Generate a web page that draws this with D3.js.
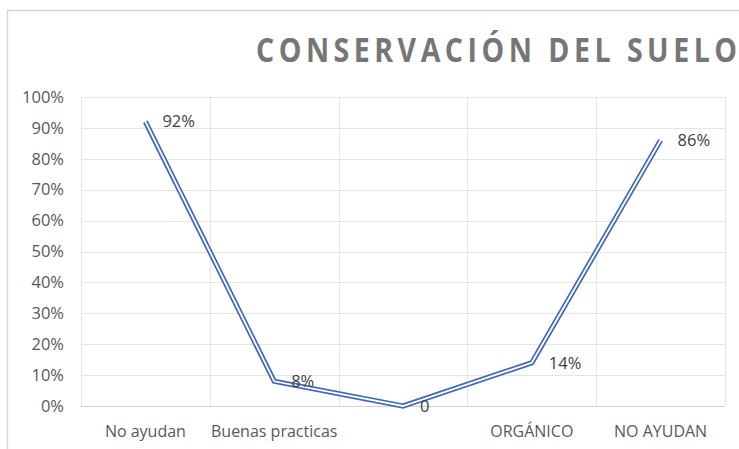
<!DOCTYPE html>
<html>
<head>
<meta charset="utf-8">
<script src="https://cdn.jsdelivr.net/npm/d3@7"></script>
<style>
  body { margin: 0; background: #fff; }
  text { font-family: "Open Sans", sans-serif; }
</style>
</head>
<body>
<svg id="chart" width="739" height="449"></svg>
<script>
const categories = ["No ayudan", "Buenas practicas", "", "ORGÁNICO", "NO AYUDAN"];
const values = [0.92, 0.08, 0, 0.14, 0.86];
const valueLabels = ["92%", "8%", "0", "14%", "86%"];
const yTicks = [0, 0.1, 0.2, 0.3, 0.4, 0.5, 0.6, 0.7, 0.8, 0.9, 1];

const svg = d3.select("#chart");
const margin = {left: 81, right: 14, top: 97, bottom: 43};
const W = 739, H = 449;

// chart frame (left + top edges visible, rest cropped)
svg.append("path")
  .attr("d", "M7.5,449 V10.5 H739")
  .attr("fill", "none")
  .attr("stroke", "#d9d9d9")
  .attr("stroke-width", 1.5);

// title: condensed glyphs, wide tracking
const titleScale = 0.84;
svg.append("text")
  .attr("transform", `translate(256,62) scale(${titleScale},1)`)
  .attr("fill", "#767676")
  .attr("font-size", 34)
  .attr("font-weight", "bold")
  .attr("textLength", 481 / titleScale)
  .attr("lengthAdjust", "spacing")
  .text("CONSERVACIÓN DEL SUELO");

const x = d3.scaleBand()
  .domain(d3.range(categories.length))
  .range([margin.left, W - margin.right]);

const y = d3.scaleLinear()
  .domain([0, 1])
  .range([H - margin.bottom, margin.top]);

// horizontal gridlines
svg.append("g")
  .selectAll("line")
  .data(yTicks)
  .join("line")
  .attr("x1", margin.left)
  .attr("x2", W - margin.right)
  .attr("y1", d => Math.round(y(d)) + 0.5)
  .attr("y2", d => Math.round(y(d)) + 0.5)
  .attr("stroke", d => d === 0 ? "#d0d0d0" : "#e4e4e4");

// vertical gridlines at band edges
svg.append("g")
  .selectAll("line")
  .data(d3.range(categories.length + 1))
  .join("line")
  .attr("x1", d => Math.round(margin.left + d * x.step()) + 0.5)
  .attr("x2", d => Math.round(margin.left + d * x.step()) + 0.5)
  .attr("y1", y(1))
  .attr("y2", y(0))
  .attr("stroke", "#e4e4e4");

// y axis labels
svg.append("g")
  .selectAll("text")
  .data(yTicks)
  .join("text")
  .attr("x", 64)
  .attr("y", d => y(d))
  .attr("dy", "0.35em")
  .attr("text-anchor", "end")
  .attr("font-size", 16.5)
  .attr("fill", "#595959")
  .text(d3.format(".0%"));

// x axis labels
svg.append("g")
  .selectAll("text")
  .data(categories)
  .join("text")
  .attr("x", (d, i) => x(i) + x.bandwidth() / 2)
  .attr("y", 431)
  .attr("dy", "0.35em")
  .attr("text-anchor", "middle")
  .attr("font-size", 16)
  .attr("fill", "#595959")
  .text(d => d);

const line = d3.line()
  .x((d, i) => x(i) + x.bandwidth() / 2)
  .y(d => y(d));

// double line: blue outer, white core
svg.append("path")
  .datum(values)
  .attr("d", line)
  .attr("fill", "none")
  .attr("stroke", "#4068b8")
  .attr("stroke-width", 5.2)
  .attr("stroke-linejoin", "miter");

svg.append("path")
  .datum(values)
  .attr("d", line)
  .attr("fill", "none")
  .attr("stroke", "#fff")
  .attr("stroke-width", 1.8)
  .attr("stroke-linejoin", "miter");

// data labels (right of point)
svg.append("g")
  .selectAll("text")
  .data(values)
  .join("text")
  .attr("x", (d, i) => x(i) + x.bandwidth() / 2 + 17)
  .attr("y", d => y(d))
  .attr("dy", "0.35em")
  .attr("font-size", 16.5)
  .attr("fill", "#404040")
  .text((d, i) => valueLabels[i]);
</script>
</body>
</html>
